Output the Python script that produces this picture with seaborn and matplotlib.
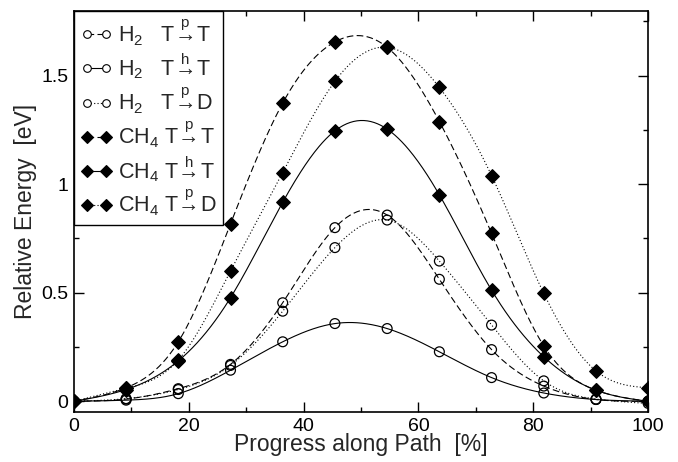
import numpy as np
import matplotlib
matplotlib.use("Agg")
import matplotlib.pyplot as plt
import seaborn as sns
from matplotlib.lines import Line2D
from matplotlib.ticker import MultipleLocator, FormatStrFormatter

# reaction path progress [%] and relative energies [eV]
progress = [0, 9.09, 18.18, 27.27, 36.36, 45.45, 54.55, 63.64, 72.73, 81.82, 90.91, 100]

h2_pt = [0, 0.010, 0.058, 0.170, 0.454, 0.800, 0.858, 0.562, 0.238, 0.070, 0.008, 0]
h2_ht = [0, 0.005, 0.035, 0.143, 0.274, 0.358, 0.335, 0.228, 0.109, 0.038, 0.008, 0]
h2_pd = [0, 0.012, 0.054, 0.165, 0.415, 0.708, 0.835, 0.646, 0.351, 0.094, 0.010, -0.01]
ch4_pt = [0, 0.062, 0.274, 0.817, 1.374, 1.656, 1.631, 1.289, 0.774, 0.255, 0.051, 0]
ch4_ht = [0, 0.054, 0.186, 0.477, 0.917, 1.246, 1.254, 0.951, 0.512, 0.205, 0.051, 0]
ch4_pd = [0, 0.060, 0.190, 0.600, 1.054, 1.474, 1.631, 1.446, 1.040, 0.497, 0.140, 0.062]

labels = [
    r"H$_2$   T$\!\overset{\mathrm{p}}{\rightarrow}\!$T",
    r"H$_2$   T$\!\overset{\mathrm{h}}{\rightarrow}\!$T",
    r"H$_2$   T$\!\overset{\mathrm{p}}{\rightarrow}\!$D",
    r"CH$_4$ T$\!\overset{\mathrm{p}}{\rightarrow}\!$T",
    r"CH$_4$ T$\!\overset{\mathrm{h}}{\rightarrow}\!$T",
    r"CH$_4$ T$\!\overset{\mathrm{p}}{\rightarrow}\!$D",
]


def natural_spline(x, y, n=500):
    # smooth curve through the points, like the grace spline option
    x = np.asarray(x, float)
    y = np.asarray(y, float)
    h = np.diff(x)
    m = len(x)
    A = np.zeros((m, m))
    b = np.zeros(m)
    A[0, 0] = A[-1, -1] = 1
    for i in range(1, m - 1):
        A[i, i - 1] = h[i - 1]
        A[i, i] = 2 * (h[i - 1] + h[i])
        A[i, i + 1] = h[i]
        b[i] = 3 * ((y[i + 1] - y[i]) / h[i] - (y[i] - y[i - 1]) / h[i - 1])
    c = np.linalg.solve(A, b)
    bb = (y[1:] - y[:-1]) / h - h * (2 * c[:-1] + c[1:]) / 3
    d = (c[1:] - c[:-1]) / (3 * h)
    xs = np.linspace(x[0], x[-1], n)
    k = np.clip(np.searchsorted(x, xs) - 1, 0, m - 2)
    dx = xs - x[k]
    ys = y[k] + bb[k] * dx + c[k] * dx ** 2 + d[k] * dx ** 3
    return xs, ys


sns.set_theme(style="ticks")
plt.rcParams["font.family"] = ["Liberation Sans", "DejaVu Sans"]
plt.rcParams["mathtext.fontset"] = "custom"
plt.rcParams["mathtext.rm"] = "Liberation Sans"
plt.rcParams["mathtext.it"] = "Liberation Sans:italic"

fig = plt.figure(figsize=(6.78, 4.62), dpi=100)
ax = fig.add_axes([0.109, 0.108, 0.847, 0.869])

series = [
    (h2_pt, "o", "white", (0, (6, 3))),
    (h2_ht, "o", "white", "-"),
    (h2_pd, "o", "white", (0, (1, 2))),
    (ch4_pt, "D", "black", (0, (6, 3))),
    (ch4_ht, "D", "black", "-"),
    (ch4_pd, "D", "black", (0, (1, 2))),
]

handles = []
for vals, mk, fc, ls in series:
    xs, ys = natural_spline(progress, vals)
    sns.lineplot(x=xs, y=ys, ax=ax, color="black", linewidth=0.8,
                 linestyle=ls, sort=False, errorbar=None)
    size = 50 if mk == "o" else 48
    sns.scatterplot(x=progress, y=vals, ax=ax, marker=mk, s=size,
                    facecolor=fc if fc == "black" else "none",
                    edgecolor="black", linewidth=0.9, zorder=3)
    handles.append(Line2D([], [], color="black", linewidth=0.8, linestyle=ls,
                          marker=mk, markersize=5.5 if mk == "o" else 6,
                          markerfacecolor=fc, markeredgecolor="black",
                          markeredgewidth=0.8))

ax.set_xlim(0, 100)
ax.set_ylim(-0.05, 1.8)
ax.xaxis.set_major_locator(MultipleLocator(20))
ax.xaxis.set_minor_locator(MultipleLocator(10))
ax.yaxis.set_major_locator(MultipleLocator(0.5))
ax.yaxis.set_minor_locator(MultipleLocator(0.25))
ax.yaxis.set_major_formatter(FormatStrFormatter("%g"))
ax.tick_params(which="both", direction="in", top=True, right=True,
               colors="black", labelsize=14, width=1)
ax.tick_params(which="major", length=7.5, pad=4)
ax.tick_params(which="minor", length=3.8)
for sp in ax.spines.values():
    sp.set_linewidth(1.2)
    sp.set_color("black")

ax.set_xlabel("Progress along Path  [%]", fontsize=16.5, labelpad=-1)
ax.set_ylabel("Relative Energy  [eV]", fontsize=16.5, labelpad=3)

leg = ax.legend(handles, labels, loc="upper left", borderaxespad=0,
                fontsize=15.5, numpoints=2, handlelength=1.5,
                handletextpad=0.25, labelspacing=0.18, borderpad=0.3,
                fancybox=False, framealpha=1, edgecolor="black")
leg.get_frame().set_linewidth(1.0)

fig.savefig("out.png", dpi=100)
